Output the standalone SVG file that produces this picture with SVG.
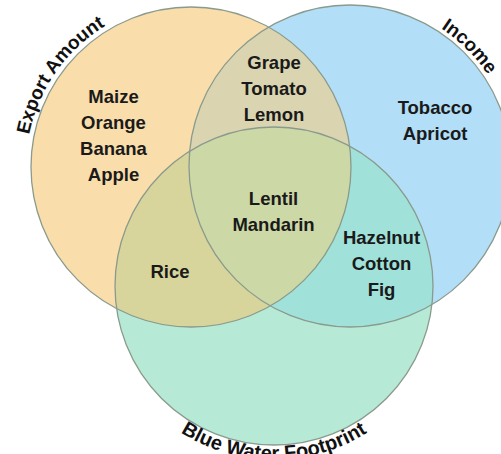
<svg xmlns="http://www.w3.org/2000/svg" width="501" height="454" viewBox="0 0 501 454">
<style>
.lbl{font-family:"Liberation Sans",Arial,sans-serif;font-weight:bold;font-size:18.5px;fill:#1a1a1a;text-anchor:middle}
.set{font-family:"Liberation Sans",Arial,sans-serif;font-weight:bold;font-size:19px;fill:#111}
.ol{fill:none;stroke:#8a9a8c;stroke-width:1.3}
</style>
<defs>
<clipPath id="clipA"><circle cx="191" cy="167" r="160"/></clipPath>
<clipPath id="clipB"><circle cx="350" cy="166" r="161"/></clipPath>
<path id="arcA" d="M26.6,181.4 A165,165 0 0 1 148.3,7.6"/>
<path id="arcB" d="M364.4,1.6 A165,165 0 0 1 514.4,151.6"/>
<path id="arcC" d="M110.6,345.5 A174,174 0 0 0 437.4,345.5"/>
</defs>
<rect width="501" height="454" fill="#ffffff"/>
<g id="set-export">
<circle cx="191" cy="167" r="160" fill="#F9DDAB"/>
</g>
<g id="set-income">
<circle cx="350" cy="166" r="161" fill="#B2DEF8"/>
</g>
<g id="set-bluewater">
<circle cx="274" cy="286" r="159" fill="#B6EAD6"/>
</g>
<g id="overlaps">
<circle cx="350" cy="166" r="161" fill="#DAD5B0" clip-path="url(#clipA)"/>
<circle cx="274" cy="286" r="159" fill="#D8D59C" clip-path="url(#clipA)"/>
<circle cx="274" cy="286" r="159" fill="#A0E2DA" clip-path="url(#clipB)"/>
<g clip-path="url(#clipA)"><circle cx="274" cy="286" r="159" fill="#CCD8A6" clip-path="url(#clipB)"/></g>
</g>
<g id="outlines">
<circle class="ol" cx="191" cy="167" r="160"/>
<circle class="ol" cx="350" cy="166" r="161"/>
<circle class="ol" cx="274" cy="286" r="159"/>
</g>
<g id="connectors"/>
<g id="set-labels">
<text class="set" text-anchor="middle"><textPath href="#arcA" startOffset="50%">Export Amount</textPath></text>
<text class="set" text-anchor="middle"><textPath href="#arcB" startOffset="50%">Income</textPath></text>
<text class="set" text-anchor="middle" style="font-size:20px"><textPath href="#arcC" startOffset="50%">Blue Water Footprint</textPath></text>
</g>
<g id="region-export-only">
<text class="lbl" x="113.5" y="102.7">Maize</text>
<text class="lbl" x="113.5" y="128.7">Orange</text>
<text class="lbl" x="113.5" y="154.7">Banana</text>
<text class="lbl" x="113.5" y="180.7">Apple</text>
</g>
<g id="region-export-income">
<text class="lbl" x="274" y="69">Grape</text>
<text class="lbl" x="274" y="95">Tomato</text>
<text class="lbl" x="274" y="121">Lemon</text>
</g>
<g id="region-income-only">
<text class="lbl" x="435" y="114">Tobacco</text>
<text class="lbl" x="435" y="140">Apricot</text>
</g>
<g id="region-all">
<text class="lbl" x="273.5" y="205">Lentil</text>
<text class="lbl" x="273.5" y="231">Mandarin</text>
</g>
<g id="region-export-water">
<text class="lbl" x="170" y="278.3">Rice</text>
</g>
<g id="region-income-water">
<text class="lbl" x="381.5" y="243.5">Hazelnut</text>
<text class="lbl" x="381.5" y="269.5">Cotton</text>
<text class="lbl" x="381.5" y="295.5">Fig</text>
</g>
</svg>
